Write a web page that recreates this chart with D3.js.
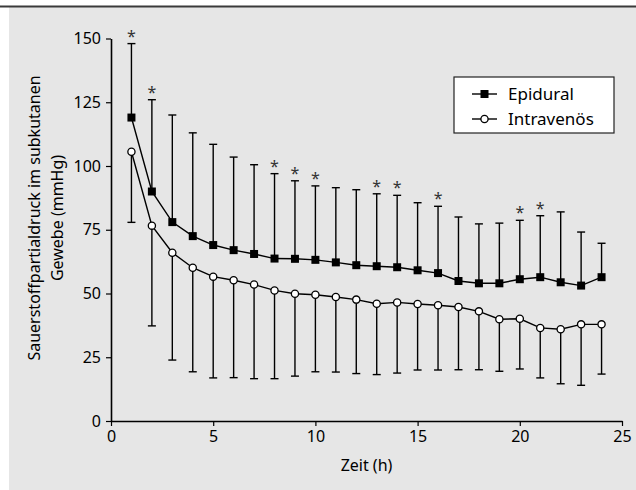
<!DOCTYPE html>
<html>
<head>
<meta charset="utf-8">
<script src="https://cdn.jsdelivr.net/npm/d3@7"></script>
<style>
  body { margin: 0; background: #fff; }
  text { font-family: "Noto Sans", sans-serif; }
</style>
</head>
<body>
<div id="chart"></div>
<script>
// data
var hours = [1, 2, 3, 4, 5, 6, 7, 8, 9, 10, 11, 12, 13, 14, 15, 16, 17, 18, 19, 20, 21, 22, 23, 24];
var epidural = [119, 90, 78, 72.5, 69, 67, 65.5, 63.7, 63.6, 63.2, 62.2, 61.1, 60.7, 60.3, 59.1, 58.0, 54.9, 54.0, 54.0, 55.6, 56.4, 54.4, 53.1, 56.4];
var epiduralUpper = [148, 126, 120, 113, 108.5, 103.5, 100.5, 97, 94.2, 92.2, 91.5, 90.7, 89.1, 88.5, 85.6, 84.2, 80, 77.3, 77.6, 78.7, 80.5, 82, 74.1, 69.7];
var intravenoes = [105.6, 76.6, 66.0, 60.1, 56.6, 55.2, 53.5, 51.2, 49.9, 49.5, 48.6, 47.6, 46.0, 46.5, 45.9, 45.4, 44.7, 43.0, 39.9, 40.1, 36.5, 36.0, 37.9, 37.9];
var intravenoesLower = [77.9, 37.3, 23.9, 19.3, 16.9, 17.0, 16.6, 16.6, 17.6, 19.3, 19.2, 18.6, 18.2, 18.8, 20.0, 20.0, 20.1, 20.1, 19.5, 20.4, 16.9, 14.6, 14.0, 18.4];
var starHours = [1, 2, 8, 9, 10, 13, 14, 16, 20, 21];
var xTicks = [0, 5, 10, 15, 20, 25];
var yTicks = [0, 25, 50, 75, 100, 125, 150];

var W = 636, H = 490;
var margin = { top: 38.5, right: 14, bottom: 69, left: 111 },
    width = W - margin.left - margin.right,
    height = H - margin.top - margin.bottom;

var svg = d3.select("#chart")
    .append("svg")
    .attr("width", W)
    .attr("height", H);

// grey panel + dark rule on top
svg.append("rect")
    .attr("x", 9).attr("y", 7)
    .attr("width", W - 9).attr("height", H - 7)
    .attr("fill", "#e6e6e6");
svg.append("line")
    .attr("x1", 0).attr("x2", W)
    .attr("y1", 6.5).attr("y2", 6.5)
    .attr("stroke", "#3a3a3a")
    .attr("stroke-width", 2);

var g = svg.append("g")
    .attr("transform", "translate(" + margin.left + "," + margin.top + ")");

var x = d3.scaleLinear().domain([0, 25]).range([0, width]);
var y = d3.scaleLinear().domain([0, 150]).range([height, 0]);

var rows = hours.map(function (h, i) {
    return { h: h, epi: epidural[i], epiUp: epiduralUpper[i], iv: intravenoes[i], ivLo: intravenoesLower[i] };
});

// axes
var xAxis = g.append("g")
    .attr("transform", "translate(0," + height + ")")
    .call(d3.axisBottom(x).tickValues(xTicks).tickSize(5).tickPadding(5).tickSizeOuter(0));
var yAxis = g.append("g")
    .call(d3.axisLeft(y).tickValues(yTicks).tickSize(5).tickPadding(5).tickSizeOuter(0));
[xAxis, yAxis].forEach(function (a) {
    a.select(".domain").attr("stroke", "#000").attr("stroke-width", 1.6);
    a.selectAll(".tick line").attr("stroke", "#000").attr("stroke-width", 1.2);
    a.selectAll(".tick text")
        .attr("fill", "#000")
        .style("font-family", "'Noto Sans', sans-serif")
        .style("font-size", "16px");
});

// axis titles
g.append("text")
    .attr("x", width / 2)
    .attr("y", height + 50)
    .attr("text-anchor", "middle")
    .style("font-size", "16px")
    .text("Zeit (h)");

var yl = g.append("text")
    .attr("transform", "translate(" + (40 - margin.left) + "," + (218 - margin.top) + ") rotate(-90)")
    .attr("text-anchor", "middle")
    .style("font-size", "16px");
yl.append("tspan").attr("x", 0).attr("y", 0).text("Sauerstoffpartialdruck im subkutanen");
yl.append("tspan").attr("x", 0).attr("y", 23).text("Gewebe (mmHg)");

// error bars: epidural goes up, intravenoes goes down
var cap = 4;
var bars = g.append("g").attr("stroke", "#000").attr("stroke-width", 1.4);
bars.selectAll("line.epi")
    .data(rows).enter().append("line")
    .attr("x1", function (d) { return x(d.h) }).attr("x2", function (d) { return x(d.h) })
    .attr("y1", function (d) { return y(d.epi) }).attr("y2", function (d) { return y(d.epiUp) });
bars.selectAll("line.epicap")
    .data(rows).enter().append("line")
    .attr("x1", function (d) { return x(d.h) - cap }).attr("x2", function (d) { return x(d.h) + cap })
    .attr("y1", function (d) { return y(d.epiUp) }).attr("y2", function (d) { return y(d.epiUp) });
bars.selectAll("line.iv")
    .data(rows).enter().append("line")
    .attr("x1", function (d) { return x(d.h) }).attr("x2", function (d) { return x(d.h) })
    .attr("y1", function (d) { return y(d.iv) }).attr("y2", function (d) { return y(d.ivLo) });
bars.selectAll("line.ivcap")
    .data(rows).enter().append("line")
    .attr("x1", function (d) { return x(d.h) - cap }).attr("x2", function (d) { return x(d.h) + cap })
    .attr("y1", function (d) { return y(d.ivLo) }).attr("y2", function (d) { return y(d.ivLo) });

// significance stars
g.selectAll("text.star")
    .data(rows.filter(function (d) { return starHours.indexOf(d.h) >= 0 }))
    .enter().append("text")
    .attr("x", function (d) { return x(d.h) })
    .attr("y", function (d) { return y(d.epiUp) - 2 })
    .attr("text-anchor", "middle")
    .attr("fill", "#333")
    .style("font-size", "16px")
    .text("*");

// lines
g.append("path")
    .datum(rows)
    .attr("fill", "none").attr("stroke", "#000").attr("stroke-width", 1.4)
    .attr("d", d3.line().x(function (d) { return x(d.h) }).y(function (d) { return y(d.epi) }));
g.append("path")
    .datum(rows)
    .attr("fill", "none").attr("stroke", "#000").attr("stroke-width", 1.4)
    .attr("d", d3.line().x(function (d) { return x(d.h) }).y(function (d) { return y(d.iv) }));

// markers
var sq = 8;
g.selectAll("rect.epi")
    .data(rows).enter().append("rect")
    .attr("x", function (d) { return x(d.h) - sq / 2 })
    .attr("y", function (d) { return y(d.epi) - sq / 2 })
    .attr("width", sq).attr("height", sq)
    .attr("fill", "#000");
g.selectAll("circle.iv")
    .data(rows).enter().append("circle")
    .attr("cx", function (d) { return x(d.h) })
    .attr("cy", function (d) { return y(d.iv) })
    .attr("r", 3.6)
    .attr("fill", "#fff").attr("stroke", "#000").attr("stroke-width", 1.3);

// legend
var lg = svg.append("g").attr("transform", "translate(454,77)");
lg.append("rect")
    .attr("width", 160).attr("height", 56)
    .attr("fill", "#fff").attr("stroke", "#222").attr("stroke-width", 1.2);
var items = [{ name: "Epidural", type: "sq" }, { name: "Intravenös", type: "ci" }];
items.forEach(function (it, i) {
    var yy = 17 + i * 25;
    lg.append("line")
        .attr("x1", 18).attr("x2", 43).attr("y1", yy).attr("y2", yy)
        .attr("stroke", "#000").attr("stroke-width", 1.4);
    if (it.type == "sq") {
        lg.append("rect").attr("x", 30.5 - sq / 2).attr("y", yy - sq / 2)
            .attr("width", sq).attr("height", sq).attr("fill", "#000");
    } else {
        lg.append("circle").attr("cx", 30.5).attr("cy", yy).attr("r", 3.6)
            .attr("fill", "#fff").attr("stroke", "#000").attr("stroke-width", 1.3);
    }
    lg.append("text")
        .attr("x", 54).attr("y", yy + 6)
        .style("font-size", "17px")
        .text(it.name);
});
</script>
</body>
</html>
